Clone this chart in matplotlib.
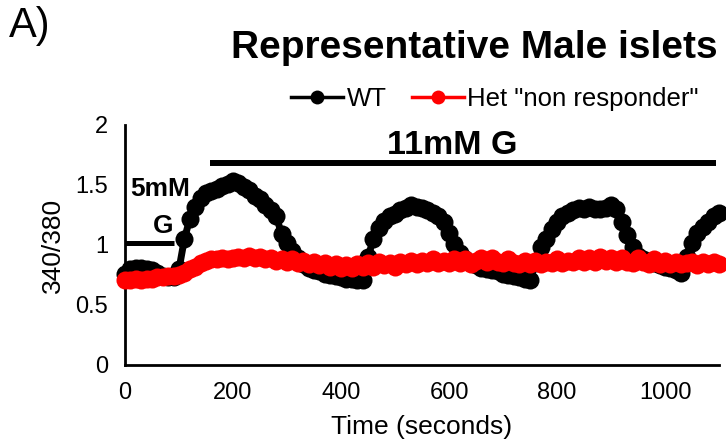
"""Representative Male islets - calcium trace (340/380)"""

import matplotlib
matplotlib.use('Agg')
import matplotlib.pyplot as plt
from matplotlib.lines import Line2D
import numpy as np

plt.rcParams['font.family'] = ['Liberation Sans', 'DejaVu Sans']

# time in seconds, one sample every 10 s
time_s = np.arange(0, 1101, 10)

wt = [0.76, 0.80, 0.81, 0.81, 0.80, 0.79, 0.77, 0.74, 0.73, 0.73,
      0.80, 1.05, 1.22, 1.32, 1.39, 1.43, 1.45, 1.47, 1.49, 1.51,
      1.53, 1.52, 1.48, 1.46, 1.41, 1.38, 1.33, 1.29, 1.24, 1.09,
      1.02, 0.95, 0.89, 0.84, 0.81, 0.79, 0.78, 0.76, 0.75, 0.74,
      0.73, 0.72, 0.72, 0.71, 0.71, 0.90, 1.05, 1.14, 1.20, 1.24,
      1.26, 1.29, 1.31, 1.33, 1.32, 1.31, 1.29, 1.27, 1.24, 1.19,
      1.10, 1.01, 0.93, 0.88, 0.85, 0.83, 0.81, 0.80, 0.79, 0.78,
      0.76, 0.75, 0.74, 0.73, 0.72, 0.71, 0.85, 0.98, 1.05, 1.13,
      1.19, 1.24, 1.27, 1.29, 1.31, 1.30, 1.32, 1.30, 1.30, 1.31,
      1.33, 1.30, 1.19, 1.08, 0.98, 0.91, 0.88, 0.86, 0.85, 0.83,
      0.82, 0.81, 0.79, 0.77, 0.90, 1.02, 1.10, 1.15, 1.19, 1.24,
      1.27]

het = [0.71, 0.71, 0.72, 0.71, 0.72, 0.72, 0.73, 0.73, 0.74, 0.74,
       0.75, 0.77, 0.80, 0.82, 0.85, 0.87, 0.88, 0.88, 0.89, 0.88,
       0.89, 0.90, 0.89, 0.91, 0.89, 0.90, 0.88, 0.89, 0.87, 0.88,
       0.86, 0.88, 0.85, 0.87, 0.84, 0.86, 0.83, 0.85, 0.82, 0.84,
       0.81, 0.83, 0.81, 0.84, 0.82, 0.85, 0.82, 0.86, 0.83, 0.85,
       0.82, 0.86, 0.84, 0.87, 0.84, 0.87, 0.85, 0.88, 0.85, 0.87,
       0.85, 0.88, 0.85, 0.88, 0.84, 0.87, 0.89, 0.86, 0.89, 0.86,
       0.85, 0.88, 0.85, 0.84, 0.87, 0.84, 0.87, 0.84, 0.86, 0.85,
       0.88, 0.85, 0.87, 0.86, 0.89, 0.86, 0.89, 0.86, 0.90, 0.87,
       0.89, 0.86, 0.89, 0.86, 0.85, 0.89, 0.86, 0.84, 0.88, 0.84,
       0.87, 0.84, 0.86, 0.84, 0.85, 0.86, 0.83, 0.86, 0.84, 0.86,
       0.84]

series_names = ['WT', 'Het "non responder"']
series_colors = ['black', 'red']

x_ticks = [0, 200, 400, 600, 800, 1000]
y_ticks = [0, 0.5, 1, 1.5, 2]
y_tick_labels = ['0', '0.5', '1', '1.5', '2']

# glucose bars: (start, end, level)
low_glucose = (0, 90, 1.02)
high_glucose = (157, 1094, 1.68)

fig = plt.figure(figsize=(7.26, 4.48), dpi=100)
ax = fig.add_axes([0.1722, 0.1853, 0.8182, 0.5357])

for vals, name, col, z in zip([wt, het], series_names, series_colors, [3, 4]):
    ax.plot(time_s, vals, color=col, marker='o', markersize=13, lw=5,
            mew=0, clip_on=False, zorder=z)

ax.plot(low_glucose[:2], [low_glucose[2]] * 2, color='black', lw=3.6,
        solid_capstyle='butt')
ax.plot(high_glucose[:2], [high_glucose[2]] * 2, color='black', lw=4.3,
        solid_capstyle='butt')
ax.text(65, 1.47, '5mM', fontsize=19, fontweight='bold', ha='center', va='center')
ax.text(70, 1.16, 'G', fontsize=19, fontweight='bold', ha='center', va='center')
ax.text(606, 1.83, '11mM G', fontsize=24.5, fontweight='bold', ha='center', va='center')

ax.set_xlim(0, 1100)
ax.set_ylim(0, 2)
ax.set_xticks(x_ticks)
ax.set_yticks(y_ticks)
ax.set_yticklabels(y_tick_labels)
ax.tick_params(length=0, labelsize=17, pad=12)
for side in ['top', 'right']:
    ax.spines[side].set_visible(False)
for side in ['left', 'bottom']:
    ax.spines[side].set_linewidth(2)

ax.set_xlabel('Time (seconds)', fontsize=19, labelpad=8)
ax.set_ylabel('340/380', fontsize=19, labelpad=8)

fig.text(0.654, 0.893, 'Representative Male islets', fontsize=28,
         fontweight='bold', ha='center', va='center')
fig.text(0.012, 0.942, 'A)', fontsize=30, ha='left', va='center')

# legend uses thinner lines than the traces
handles = [Line2D([], [], color=c, lw=2.5, marker='o', markersize=10, mew=0)
           for c in series_colors]
fig.legend(handles, series_names, loc='center', bbox_to_anchor=(0.682, 0.779),
           ncol=2, frameon=False, fontsize=18.5, handlelength=2.0,
           handletextpad=0.15, columnspacing=1.0, borderpad=0)

fig.savefig('out.png', dpi=100)
